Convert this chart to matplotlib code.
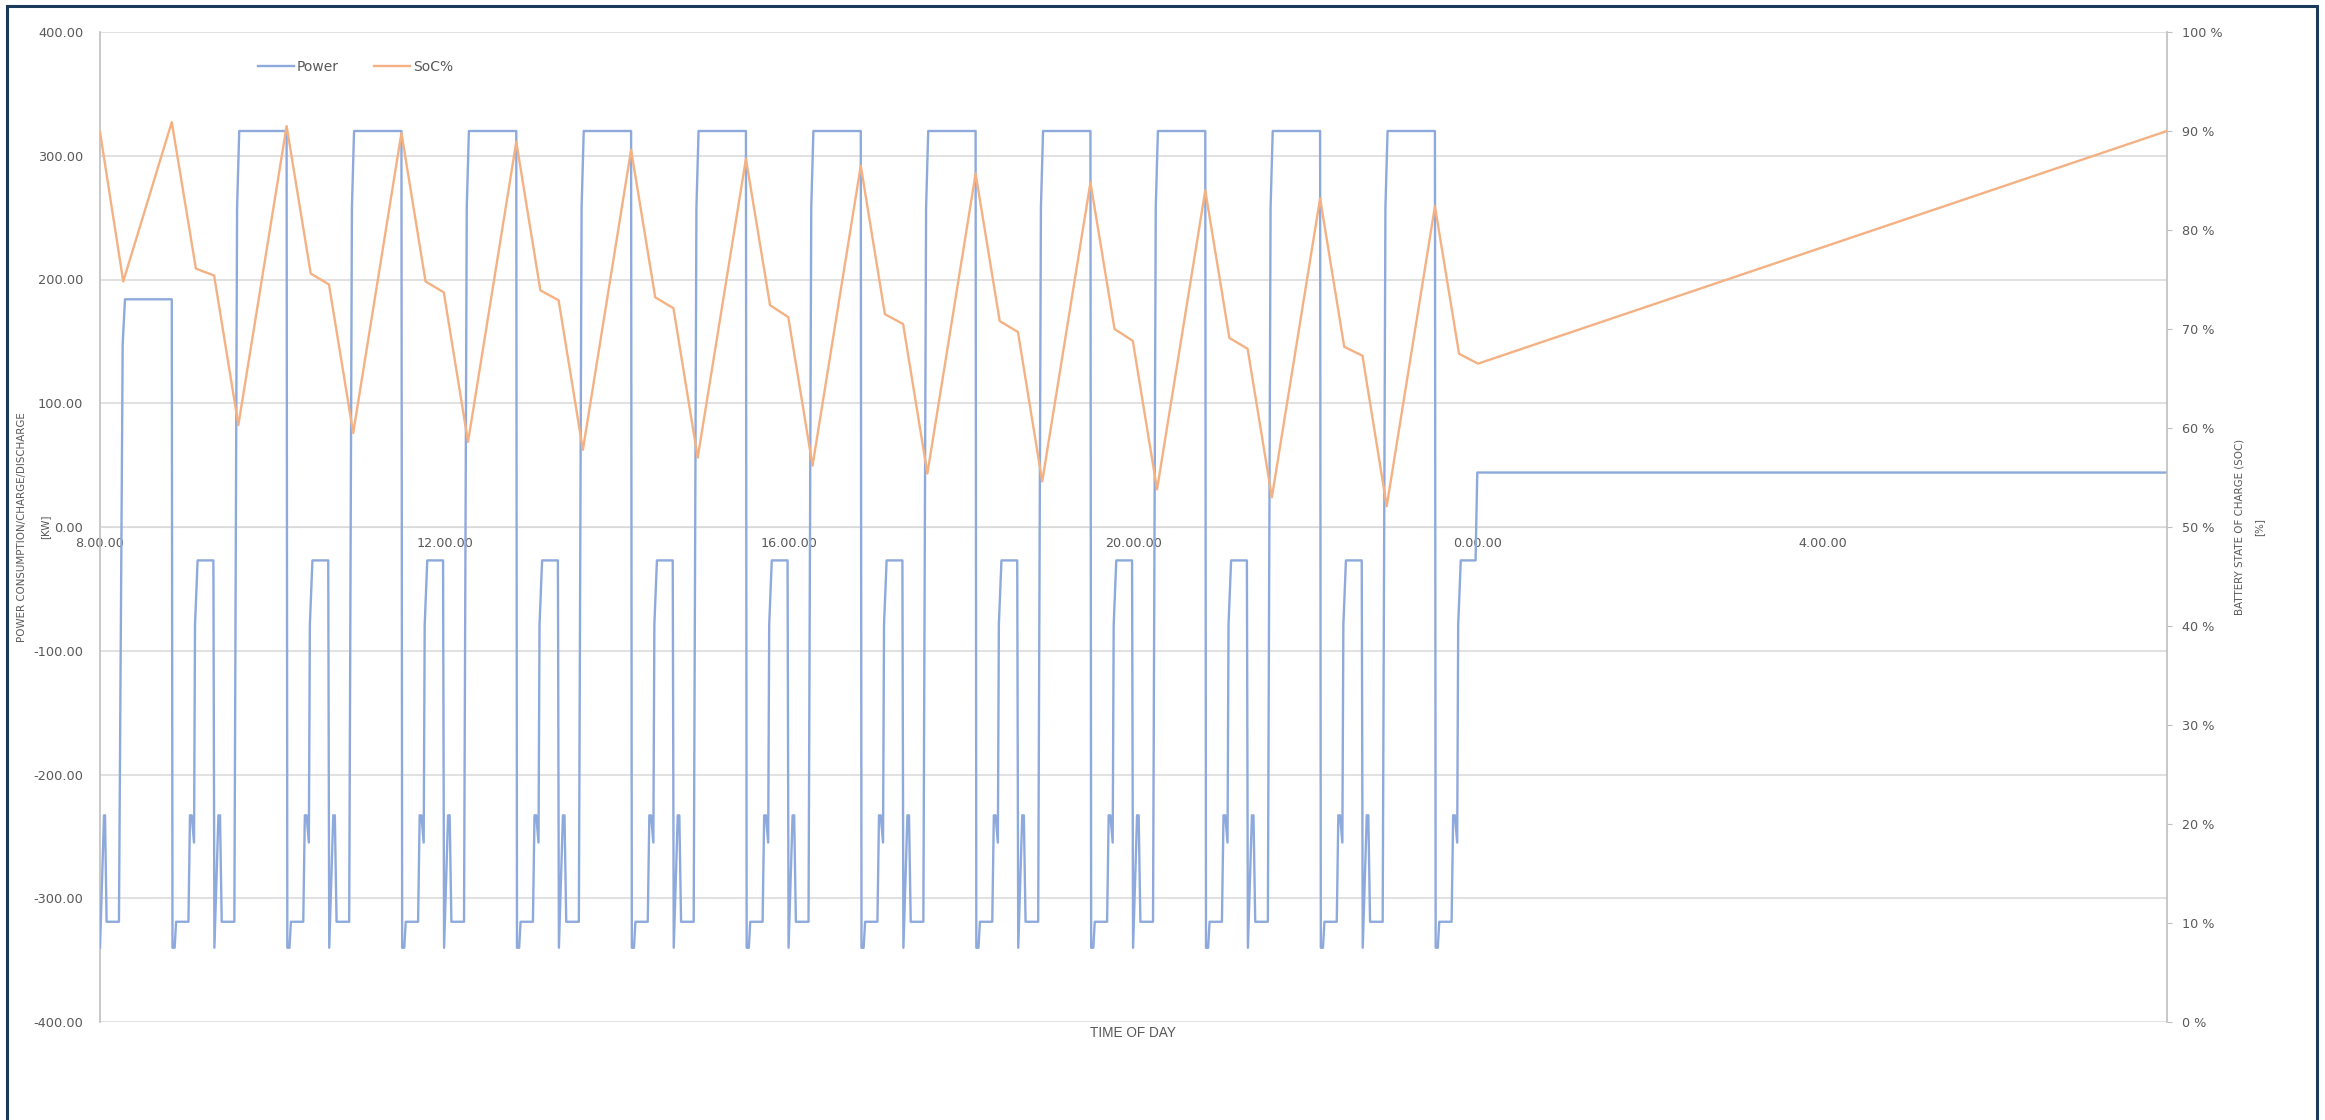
import numpy as np
import matplotlib
matplotlib.use('Agg')
import matplotlib.pyplot as plt
from matplotlib.patches import Rectangle
from matplotlib.ticker import FuncFormatter, MultipleLocator

# times are minutes after 8:00
# end of each charging block (power drops from the top level)
cycle_fall_min = [50, 130, 210, 290, 370, 450, 530, 610, 690, 770, 850, 930]
block_top_kw = [184, 320, 320, 320, 320, 320, 320, 320, 320, 320, 320, 320]

# power shape after each falling edge (minutes after the edge, kW)
fall_offsets = [0.5, 2, 3, 11.6, 12.7, 13.9, 15.5, 16.2, 18, 29, 29.7, 32.5, 33.6, 34.8, 43.6, 45.5, 47]
fall_power = [-340, -340, -319, -319, -233, -233, -255, -79, -27, -27, -340, -233, -233, -319, -319, 258, 320]

# start of the day before the first block
lead_t = [0, 2.8, 3.5, 4.6, 13.2, 15.8, 17.4]
lead_p = [-340, -233, -233, -319, -319, 148, 184]

# after the last cycle -> constant load over night
tail_t = [958.3, 959.5, 1440]
tail_p = [-27, 44, 44]

# state of charge (%)
soc_lead_t = [0, 16.2]
soc_lead = [89.9, 74.8]
soc_peak = [90.9, 90.5, 89.8, 88.9, 88.1, 87.2, 86.5, 85.7, 84.8, 84.0, 83.2, 82.4]
soc_shoulder_a = [76.1, 75.6, 74.8, 73.9, 73.2, 72.4, 71.5, 70.8, 70.0, 69.1, 68.2, 67.5]
soc_shoulder_b = [75.4, 74.5, 73.7, 72.9, 72.1, 71.2, 70.5, 69.7, 68.8, 68.0, 67.3, 66.5]
soc_trough = [60.3, 59.5, 58.6, 57.8, 57.0, 56.2, 55.4, 54.6, 53.8, 53.0, 52.1]
soc_end_t = [960, 1440]
soc_end = [66.5, 90.0]

tick_hours = [0, 4, 8, 12, 16, 20]
tick_labels = ['8.00.00', '12.00.00', '16.00.00', '20.00.00', '0.00.00', '4.00.00']

# build the polylines
n_cyc = len(cycle_fall_min)
power_t = list(lead_t)
power_kw = list(lead_p)
for k, f in enumerate(cycle_fall_min):
    power_t.append(f)
    power_kw.append(block_top_kw[k])
    n = len(fall_offsets) if k < n_cyc - 1 else 9
    power_t += [f + o for o in fall_offsets[:n]]
    power_kw += fall_power[:n]
power_t += tail_t
power_kw += tail_p

soc_t = list(soc_lead_t)
soc = list(soc_lead)
for k, f in enumerate(cycle_fall_min):
    soc_t += [f, f + 16.8]
    soc += [soc_peak[k], soc_shoulder_a[k]]
    if k < n_cyc - 1:
        soc_t += [f + 29.5, f + 46.4]
        soc += [soc_shoulder_b[k], soc_trough[k]]
soc_t += soc_end_t
soc += soc_end

power_h = np.array(power_t) / 60.0
soc_h = np.array(soc_t) / 60.0

grey = '#595959'
gridc = '#d9d9d9'
blue = '#8eaadc'
orange = '#f4b183'

fig = plt.figure(figsize=(23.25, 11.2), dpi=100)
ax = fig.add_axes([100 / 2325, 1 - 1022 / 1120, 2067 / 2325, 990 / 1120])

ax.plot(power_h, power_kw, color=blue, lw=1.7, label='Power', zorder=3)
ax.set_xlim(0, 24)
ax.set_ylim(-400, 400)
ax.yaxis.set_major_locator(MultipleLocator(100))
ax.yaxis.set_major_formatter(FuncFormatter(lambda v, p: '%.2f' % v))
ax.grid(axis='y', color=gridc, lw=1.1)
ax.set_axisbelow(True)
ax.set_xticks(tick_hours)
ax.set_xticklabels(tick_labels)
ax.tick_params(axis='x', length=0, pad=7, labelsize=9.2, labelcolor=grey)
ax.tick_params(axis='y', length=0, pad=12, labelsize=9.3, labelcolor=grey)
ax.spines['bottom'].set_position(('data', 0))
ax.spines['bottom'].set_color(gridc)
ax.spines['top'].set_visible(False)
ax.spines['right'].set_visible(False)
ax.spines['left'].set_color('#bfbfbf')
ax.spines['left'].set_linewidth(1.2)

ax2 = ax.twinx()
ax2.plot(soc_h, soc, color=orange, lw=1.7, label='SoC%', zorder=4)
ax2.set_ylim(0, 100)
ax2.yaxis.set_major_locator(MultipleLocator(10))
ax2.yaxis.set_major_formatter(FuncFormatter(lambda v, p: '%d %%' % v))
ax2.tick_params(axis='y', length=3.5, width=0.8, color='#bfbfbf', pad=7, labelsize=9.2, labelcolor=grey)
for s in ['top', 'left', 'bottom']:
    ax2.spines[s].set_visible(False)
ax2.spines['right'].set_color('#bfbfbf')
ax2.spines['right'].set_linewidth(1.2)

# axis titles
fig.text(22 / 2325, 1 - 527 / 1120, 'POWER CONSUMPTION/CHARGE/DISCHARGE', rotation=90,
         ha='center', va='center', fontsize=7.4, color=grey)
fig.text(45 / 2325, 1 - 527 / 1120, '[KW]', rotation=90,
         ha='center', va='center', fontsize=7.4, color=grey)
fig.text(2239 / 2325, 1 - 527 / 1120, 'BATTERY STATE OF CHARGE (SOC)', rotation=90,
         ha='center', va='center', fontsize=7.4, color=grey)
fig.text(2259 / 2325, 1 - 527 / 1120, '[%]', rotation=90,
         ha='center', va='center', fontsize=7.4, color=grey)
fig.text(1133 / 2325, 1 - 1033 / 1120, 'TIME OF DAY', ha='center', va='center',
         fontsize=9.8, color=grey, family=['Liberation Sans', 'DejaVu Sans'])

h1, l1 = ax.get_legend_handles_labels()
h2, l2 = ax2.get_legend_handles_labels()
fig.legend(h1 + h2, l1 + l2, loc='center left', bbox_to_anchor=(251 / 2325, 1 - 67 / 1120),
           ncol=2, frameon=False, fontsize=10, labelcolor=grey, borderpad=0,
           handlelength=2.6, handletextpad=0.22, columnspacing=2.5)

# outer frame
fig.patches.append(Rectangle((7 / 2325, -0.05), 2310 / 2325, 1.05 - 6 / 1120,
                             transform=fig.transFigure, fill=False,
                             edgecolor='#1b3a5c', lw=2.2))

fig.savefig('out.png', dpi=100)
